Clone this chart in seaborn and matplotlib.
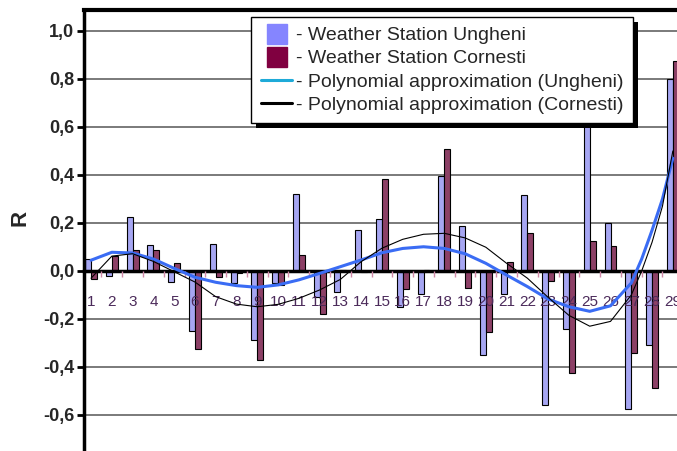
import numpy as np
import pandas as pd
import matplotlib
matplotlib.use("Agg")
import matplotlib.pyplot as plt
from matplotlib.lines import Line2D
from matplotlib.patches import Rectangle
from matplotlib.transforms import IdentityTransform
from matplotlib.ticker import MultipleLocator, FuncFormatter
import seaborn as sns

# --- data ---
DAYS = list(range(1, 30))

UNGHENI = [0.049, -0.02, 0.226, 0.11, -0.044, -0.25, 0.112, -0.05, -0.288, -0.051,
           0.32, -0.107, -0.086, 0.17, 0.216, -0.149, -0.097, 0.397, 0.188, -0.35,
           -0.097, 0.317, -0.558, -0.242, 0.62, 0.2, -0.576, -0.31, 0.80]

CORNESTI = [-0.035, 0.063, 0.088, 0.088, 0.035, -0.326, -0.026, -0.01, -0.37, -0.06,
            0.067, -0.18, 0.005, -0.005, 0.383, -0.075, 0.004, 0.51, -0.072, -0.255,
            0.039, 0.157, -0.04, -0.426, 0.126, 0.104, -0.34, -0.486, 0.875]

# polynomial trend lines, read at these positions
CURVE_X = [1, 2, 3, 4, 5, 6, 7, 8, 9, 10, 11, 12, 13, 14, 15, 16, 17, 18, 19, 20,
           21, 22, 23, 24, 25, 26, 27, 27.5, 28, 28.5, 29]
POLY_UNGHENI = [0.045, 0.078, 0.075, 0.05, 0.011, -0.026, -0.047, -0.061, -0.068, -0.058,
                -0.037, -0.01, 0.018, 0.046, 0.076, 0.094, 0.101, 0.094, 0.072, 0.032,
                -0.017, -0.065, -0.117, -0.149, -0.168, -0.145, -0.05, 0.05, 0.17, 0.30, 0.47]
POLY_CORNESTI = [-0.03, 0.062, 0.072, 0.04, -0.003, -0.046, -0.107, -0.138, -0.149, -0.139,
                 -0.114, -0.079, -0.035, 0.039, 0.095, 0.132, 0.153, 0.157, 0.138, 0.099,
                 0.032, -0.03, -0.11, -0.185, -0.23, -0.21, -0.1, 0.0, 0.12, 0.27, 0.50]

Y_TICKS = [-0.6, -0.4, -0.2, 0.0, 0.2, 0.4, 0.6, 0.8, 1.0]

LABEL_U = "- Weather Station Ungheni"
LABEL_C = "- Weather Station Cornesti"
LABEL_PU = "- Polynomial approximation (Ungheni)"
LABEL_PC = "- Polynomial approximation (Cornesti)"


def main():
    sns.set_style("white")
    plt.rcParams["font.family"] = ["Liberation Sans", "DejaVu Sans"]

    df = pd.DataFrame({
        "day": DAYS * 2,
        "R": UNGHENI + CORNESTI,
        "station": ["Ungheni"] * len(DAYS) + ["Cornesti"] * len(DAYS),
    })

    fig = plt.figure(figsize=(6.77, 4.51), dpi=100)
    ax = fig.add_axes([84 / 677, 0, 593 / 677, 441 / 451])

    # gridlines behind the bars, tick labels stay on top of them
    for y in Y_TICKS:
        ax.axhline(y, color="#7a7a7a", linewidth=1.4, zorder=0.5)

    sns.barplot(data=df, x="day", y="R", hue="station", native_scale=True,
                palette=["#9999ff", "#993366"], width=0.57, edgecolor="black",
                linewidth=0.8, errorbar=None, legend=False, ax=ax)

    sns.lineplot(x=CURVE_X, y=POLY_UNGHENI, color="#3a6cf4", linewidth=2.2,
                 ax=ax, zorder=4)
    sns.lineplot(x=CURVE_X, y=POLY_CORNESTI, color="black", linewidth=0.8,
                 ax=ax, zorder=4)

    ax.set_xlim(0.66, 29.2)
    ax.set_ylim(-0.75, 1.0875)

    ax.grid(False)
    ax.set_axisbelow(False)
    ax.spines["right"].set_visible(False)
    ax.spines["top"].set_linewidth(3)
    ax.spines["top"].set_color("black")
    ax.spines["left"].set_linewidth(2.5)
    ax.spines["left"].set_color("black")
    ax.spines["bottom"].set_position(("data", 0))
    ax.spines["bottom"].set_linewidth(2.5)
    ax.spines["bottom"].set_color("black")

    # y axis
    ax.set_yticks(Y_TICKS)
    ax.yaxis.set_major_formatter(FuncFormatter(lambda v, p: f"{v:.1f}".replace(".", ",")))
    ax.tick_params(axis="y", direction="out", length=5, width=2, color="black",
                   pad=2, labelsize=13, left=True)
    for lab in ax.get_yticklabels():
        lab.set_fontweight("bold")
    ax.set_ylabel("R", fontsize=16, fontweight="bold", rotation=90)
    ax.yaxis.set_label_coords(-0.091, 0.528)

    # x axis
    ax.set_xticks(DAYS)
    ax.set_xticklabels([str(d) for d in DAYS])
    ax.xaxis.set_minor_locator(MultipleLocator(1, offset=0.5))
    ax.tick_params(axis="x", which="major", length=0, pad=17, labelsize=11,
                   labelcolor="#4b2a5a")
    ax.tick_params(axis="x", which="minor", direction="out", length=4, width=1,
                   color="#d08aa8", bottom=True)
    ax.set_xlabel("")

    # legend
    handles = [
        Line2D([], [], marker="s", markersize=14, color="#8585ff", linestyle="none"),
        Line2D([], [], marker="s", markersize=14, color="#800040", linestyle="none"),
        Line2D([], [], color="#1eaad8", linewidth=2.2),
        Line2D([], [], color="black", linewidth=2.2),
    ]
    leg = ax.legend(handles, [LABEL_U, LABEL_C, LABEL_PU, LABEL_PC],
                    loc="upper left", bbox_to_anchor=(0.282, 0.984),
                    borderaxespad=0, frameon=True, fancybox=False, shadow=False,
                    framealpha=1, edgecolor="black", handlelength=1.6,
                    handletextpad=0.2, labelspacing=0.28, borderpad=0.5,
                    fontsize=14)
    leg.get_frame().set_linewidth(1)
    leg.set_zorder(10)

    # solid black drop shadow, offset like the original
    fig.canvas.draw()
    bb = leg.get_window_extent()
    ax.add_patch(Rectangle((bb.x0 + 5, bb.y0 - 5), bb.width, bb.height,
                           transform=IdentityTransform(), facecolor="black",
                           edgecolor="none", zorder=9, clip_on=False))

    fig.savefig("out.png", dpi=100)
    plt.close(fig)


if __name__ == "__main__":
    main()
